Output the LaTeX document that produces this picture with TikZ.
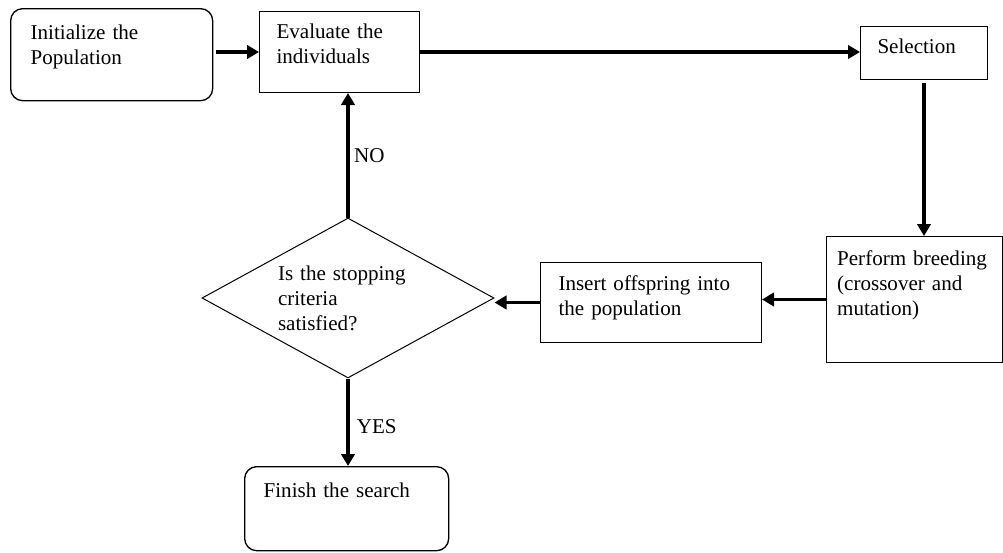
\documentclass[tikz,border=0pt]{standalone}
\usepackage{fontspec}
\setmainfont{Liberation Serif}
\usetikzlibrary{arrows.meta,shapes.geometric}

\begin{document}
\begin{tikzpicture}[x=0.75pt,y=-0.75pt,
  blk/.style={draw,line width=0.75pt,anchor=north west,inner sep=0pt,align=left,font=\fontsize{15.8pt}{18.75pt}\selectfont},
  rnd/.style={blk,line width=1pt,rounded corners=9pt},
  ar/.style={-{Triangle[length=9pt,width=10pt]},line width=2.3pt},
  lbl/.style={anchor=base west,inner sep=0pt,font=\fontsize{15.8pt}{18.75pt}\selectfont}]
\useasboundingbox (0,0) rectangle (1003,553);
\node[rnd,minimum width=151.5pt,text width=121.5pt,text height=23.25pt,text depth=45.75pt] (init) at (10,8) {Initialize the\\Population};
\node[blk,minimum width=120pt,text width=94.5pt,text height=20.25pt,text depth=40.5pt] (eval) at (259,11) {Evaluate the\\individuals};
\node[blk,minimum width=95.25pt,text width=69.75pt,text height=20.25pt,text depth=19.5pt] (sel) at (860,26) {Selection};
\node[blk,minimum width=132pt,text width=116pt,text height=21.75pt,text depth=72.75pt] (breed) at (826,236) {Perform breeding\\(crossover and\\mutation)};
\node[blk,minimum width=165.75pt,text width=138.75pt,text height=21pt,text depth=39pt] (insert) at (540,262) {Insert offspring into\\the population};
\node[draw,diamond,line width=0.75pt,aspect=1.825,minimum width=219pt,minimum height=120pt,inner sep=0pt,text width=105pt,align=left,font=\fontsize{15.8pt}{18.75pt}\selectfont] (stop) at (348,298) {Is the stopping\\criteria\\satisfied?};
\node[rnd,minimum width=153pt,text width=124.5pt,text height=23.25pt,text depth=39.75pt] (finish) at (244,466) {Finish the search};
\draw[ar,shorten <=2pt] (eval.west -| init.east) -- (eval.west);
\draw[ar] (eval.east) -- (eval.east -| sel.west);
\draw[ar,shorten <=2pt] (sel.south) -- (sel.south |- breed.north);
\draw[ar] (breed.west) -- (breed.west -| insert.east);
\draw[ar] (insert.west) -- (insert.west -| stop.east);
\draw[ar] (stop.north) -- node[lbl,pos=0.444,xshift=3.5pt]{NO} (stop.north |- eval.south);
\draw[ar] (stop.south) -- node[lbl,pos=0.625,xshift=5.5pt]{YES} (stop.south |- finish.north);
\end{tikzpicture}
\end{document}
